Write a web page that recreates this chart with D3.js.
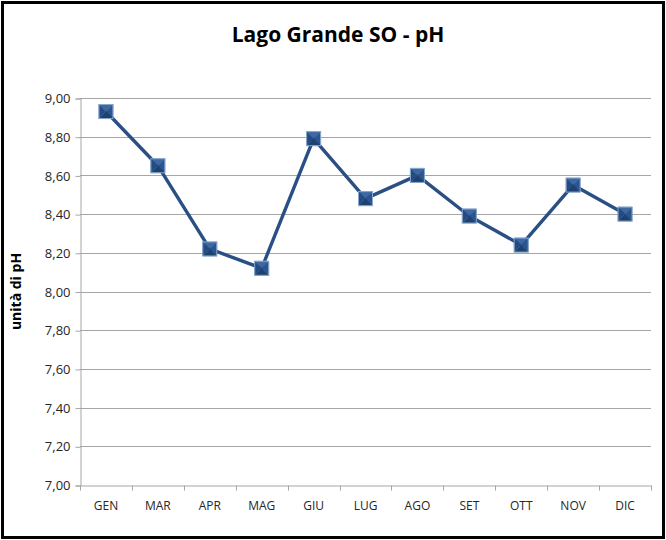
<!DOCTYPE html>
<html>
<head>
<meta charset="utf-8">
<script src="https://cdn.jsdelivr.net/npm/d3@7"></script>
<style>
  body { margin: 0; background: #fff; }
  text { font-family: "Open Sans", "Noto Sans", sans-serif; }
</style>
</head>
<body>
<div id="chart"></div>
<script>
// mesi e valori di pH
const months = ["GEN", "MAR", "APR", "MAG", "GIU", "LUG", "AGO", "SET", "OTT", "NOV", "DIC"];
const phValues = [8.93, 8.65, 8.22, 8.12, 8.79, 8.48, 8.60, 8.39, 8.24, 8.55, 8.40];
const yTicks = [7.0, 7.2, 7.4, 7.6, 7.8, 8.0, 8.2, 8.4, 8.6, 8.8, 9.0];

const W = 666, H = 540;
const svg = d3.select('#chart').append('svg')
    .attr('width', W)
    .attr('height', H);

svg.append('rect')
    .attr('x', 2.5).attr('y', 2.5)
    .attr('width', W - 5).attr('height', H - 5)
    .attr('fill', '#fff')
    .attr('stroke', '#000')
    .attr('stroke-width', 3);

const pLeft = 80, pRight = 651, pTop = 98, pBottom = 485;

const x = d3.scaleBand().domain(months).range([pLeft, pRight]);
const y = d3.scaleLinear().domain([7, 9]).range([pBottom, pTop]);

// griglia
svg.append('g')
    .selectAll('line')
    .data(yTicks.slice(1))
    .enter().append('line')
    .attr('x1', pLeft).attr('x2', pRight)
    .attr('y1', d => Math.round(y(d)) + 0.5)
    .attr('y2', d => Math.round(y(d)) + 0.5)
    .attr('stroke', '#a6a6a6');

const fmt = d => d.toFixed(2).replace('.', ',');

const yAxis = svg.append('g')
    .attr('transform', `translate(${pLeft + 0.5},0.5)`)
    .call(d3.axisLeft(y).tickValues(yTicks).tickFormat(fmt).tickSize(5).tickPadding(5));
yAxis.select('.domain').attr('stroke', '#a6a6a6');
yAxis.selectAll('.tick line').attr('stroke', '#a6a6a6');
yAxis.selectAll('.tick text').attr('fill', '#262626').style('font-size', '13px');

const xAxis = svg.append('g')
    .attr('transform', `translate(0,${Math.round(pBottom) + 0.5})`)
    .call(d3.axisBottom(x).tickSize(0).tickPadding(16));
xAxis.select('.domain').attr('stroke', '#a6a6a6');
xAxis.selectAll('.tick text').attr('fill', '#262626').style('font-size', '12px');

// tacche tra le categorie
const bounds = months.map(m => x(m)).concat([pRight]);
xAxis.selectAll('.sep')
    .data(bounds)
    .enter().append('line')
    .attr('x1', d => Math.round(d) + 0.5).attr('x2', d => Math.round(d) + 0.5)
    .attr('y1', 0).attr('y2', 5)
    .attr('stroke', '#a6a6a6');

// titoli
svg.append('text')
    .attr('x', 338).attr('y', 42)
    .attr('text-anchor', 'middle')
    .style('font-size', '21px')
    .style('font-weight', 'bold')
    .attr('fill', '#000')
    .text('Lago Grande SO - pH');

svg.append('text')
    .attr('transform', `translate(21,${(pTop + pBottom) / 2}) rotate(-90)`)
    .attr('text-anchor', 'middle')
    .style('font-size', '14px')
    .style('font-weight', 'bold')
    .attr('fill', '#000')
    .text('unità di pH');

// linea
const cx = (d, i) => x(months[i]) + x.bandwidth() / 2;
const line = d3.line()
    .x((d, i) => cx(d, i))
    .y(d => y(d));

svg.append('path')
    .datum(phValues)
    .attr('d', line)
    .attr('fill', 'none')
    .attr('stroke', '#2a4f84')
    .attr('stroke-width', 3.4)
    .attr('stroke-linejoin', 'round');

// marcatori a piramide
const s = 7;
const faces = [
    { pts: [[-s, -s], [s, -s], [0, 0]], fill: '#3d68a2' },
    { pts: [[s, -s], [s, s], [0, 0]], fill: '#2a5590' },
    { pts: [[s, s], [-s, s], [0, 0]], fill: '#1d426f' },
    { pts: [[-s, s], [-s, -s], [0, 0]], fill: '#244c82' }
];

const markers = svg.append('g')
    .selectAll('g')
    .data(phValues)
    .enter().append('g')
    .attr('transform', (d, i) => `translate(${cx(d, i)},${y(d)})`);

markers.selectAll('path')
    .data(faces)
    .enter().append('path')
    .attr('d', f => 'M' + f.pts.map(p => p.join(',')).join('L') + 'Z')
    .attr('fill', f => f.fill)
    .attr('stroke', f => f.fill)
    .attr('stroke-width', 0.5);

markers.append('rect')
    .attr('x', -s).attr('y', -s)
    .attr('width', 2 * s).attr('height', 2 * s)
    .attr('fill', 'none')
    .attr('stroke', '#8aa8d0')
    .attr('stroke-width', 1);
</script>
</body>
</html>
